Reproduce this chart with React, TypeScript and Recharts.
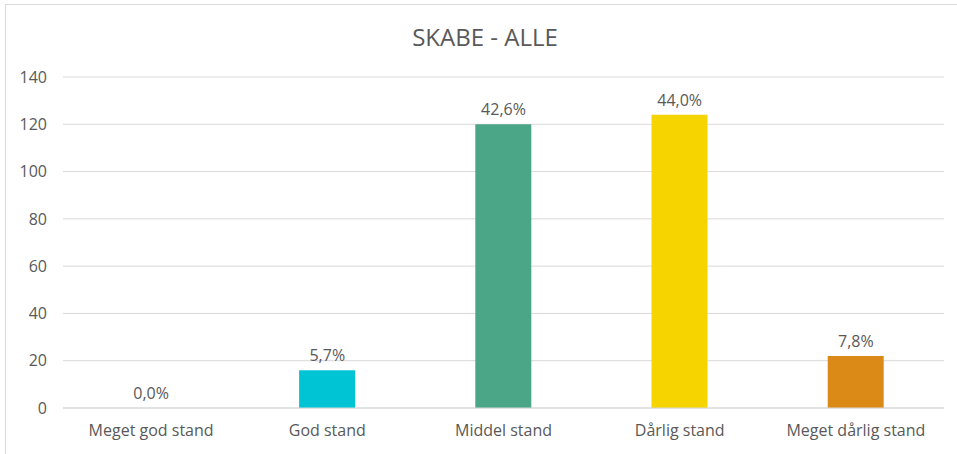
import { ComposedChart, Bar, Line, XAxis, YAxis, CartesianGrid, Cell, LabelList } from "recharts";

// Skabe - alle: antal pr. tilstand
const CATEGORIES = ["Meget god stand", "God stand", "Middel stand", "Dårlig stand", "Meget dårlig stand"];
const COUNTS = [0, 16, 120, 124, 22];
const PERCENT_LABELS = ["0,0%", "5,7%", "42,6%", "44,0%", "7,8%"];
const Y_TICKS = [0, 20, 40, 60, 80, 100, 120, 140];

const BAR_COLORS = ["#00C4D4", "#00C4D4", "#4BA587", "#F5D400", "#DB8A17"];

const data = CATEGORIES.map((name, i) => ({ name, count: COUNTS[i], label: PERCENT_LABELS[i] }));

const FONT = "'Open Sans', sans-serif";
const TEXT = "#595959";

export default function App() {
  return (
    <div style={{ position: "absolute", left: 0, top: 0, width: 957, height: 454, background: "#fff", overflow: "hidden", fontFamily: FONT }}>
      <div
        style={{
          position: "absolute",
          left: 5,
          top: 4,
          width: 960,
          height: 470,
          border: "1px solid #d9d9d9",
          boxSizing: "border-box",
        }}
      />
      <div
        style={{
          position: "absolute",
          left: 0,
          width: 970,
          top: 20,
          textAlign: "center",
          fontSize: 24,
          lineHeight: "34px",
          color: TEXT,
        }}
      >
        SKABE - ALLE
      </div>
      <div style={{ position: "absolute", left: 0, top: 0 }}>
        <ComposedChart
          width={957}
          height={454}
          data={data}
          margin={{ top: 77, right: 13, left: 0, bottom: 16 }}
          barCategoryGap="34%"
        >
          <CartesianGrid vertical={false} stroke="#d9d9d9" />
          <XAxis
            dataKey="name"
            axisLine={{ stroke: "#d9d9d9" }}
            tickLine={false}
            tickMargin={11}
            height={30}
            interval={0}
            tick={{ fill: TEXT, fontSize: 16, fontFamily: FONT }}
          />
          <YAxis
            domain={[0, 140]}
            ticks={Y_TICKS}
            width={63}
            axisLine={false}
            tickLine={false}
            tickMargin={10}
            tick={{ fill: TEXT, fontSize: 16, fontFamily: FONT }}
          />
          <Bar dataKey="count" isAnimationActive={false}>
            {data.map((d, i) => (
              <Cell key={d.name} fill={BAR_COLORS[i]} />
            ))}
          </Bar>
          <Line dataKey="count" stroke="none" dot={false} activeDot={false} isAnimationActive={false}>
            <LabelList dataKey="label" position="top" offset={9} fill={TEXT} fontSize={16} fontFamily={FONT} />
          </Line>
        </ComposedChart>
      </div>
    </div>
  );
}
